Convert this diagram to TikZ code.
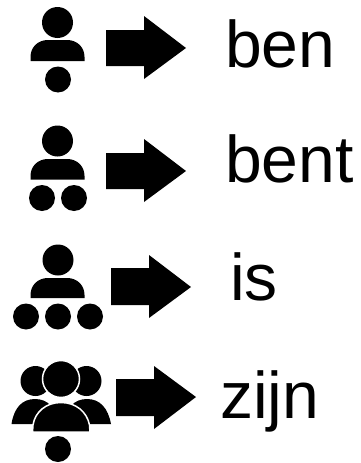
\documentclass[tikz,border=0pt]{standalone}
\usepackage{fontspec}
\setmainfont{Liberation Sans}
\tikzset{
  word/.style={anchor=base west,font=\fontsize{66}{66}\selectfont},
  cutout/.style={fill=black,draw=white,line width=1.500pt}
}

\begin{document}
\begin{tikzpicture}[y=1pt,x=1pt,yscale=-1, inner sep=0pt, outer sep=0pt]
  \useasboundingbox (0,0) rectangle (361,463);
  % first row
  \path[fill=black] (57.5,22.5) circle (15.5);
  \path[fill=black] (30.5,61) -- (30.5,57) .. controls (30.5,47) and (38,40) ..
    (48,40) -- (67,40) .. controls (77,40) and (84.5,47) .. (84.5,57) --
    (84.5,61) -- cycle;
  \path[fill=black] (58,79.5) circle (13);
  \path[fill=black] (106,30) -- (144,30) -- (144,16) -- (186,48) -- (144,79) --
    (144,66) -- (106,66) -- cycle;
  \path[fill=black] (225,67) node[word] (textben) {ben};
  % second row
  \path[fill=black] (57.5,141) circle (15.5);
  \path[fill=black] (30.5,179.5) -- (30.5,176) .. controls (30.5,166) and (38,159) ..
    (48,159) -- (67,159) .. controls (77,159) and (84.5,166) .. (84.5,176) --
    (84.5,179.5) -- cycle;
  \path[fill=black] (42,198) circle (13);
  \path[fill=black] (74,198) circle (13);
  \path[fill=black] (106,153) -- (144,153) -- (144,139) -- (186,171) -- (144,202) --
    (144,189) -- (106,189) -- cycle;
  \path[fill=black] (225,182) node[word] (textbent) {bent};
  % third row
  \path[fill=black] (58,260) circle (15.5);
  \path[fill=black] (30.5,298) -- (30.5,295) .. controls (30.5,285) and (38,278) ..
    (48,278) -- (67,278) .. controls (77,278) and (84.5,285) .. (84.5,295) --
    (84.5,298) -- cycle;
  \path[fill=black] (26,316.5) circle (13);
  \path[fill=black] (58,316.5) circle (13);
  \path[fill=black] (90,316.5) circle (13);
  \path[fill=black] (111,268) -- (149,268) -- (149,255) -- (191,287) -- (149,318) --
    (149,305) -- (111,305) -- cycle;
  \path[fill=black] (230,300) node[word] (textis) {is};
  % fourth row
  \path[fill=black] (35.5,381) circle (15);
  \path[fill=black] (86.5,381) circle (15);
  \path[fill=black] (11.5,424) .. controls (14,408) and (22,399) .. (35,399) ..
    controls (48,399) and (56,408) .. (58,424) -- cycle;
  \path[fill=black] (64,424) .. controls (66,408) and (74,399) .. (87,399) ..
    controls (100,399) and (108,408) .. (111,424) -- cycle;
  \path[cutout] (61,379) circle (18.5);
  \path[cutout] (32.5,432) -- (33,425) .. controls (35,412) and (46,402.5) ..
    (61,402.5) .. controls (76,402.5) and (87,412) .. (89.5,425) -- (90,432) -- cycle;
  \path[fill=black] (58,449) circle (13);
  \path[fill=black] (116,379) -- (154,379) -- (154,366) -- (196,397) -- (154,429) --
    (154,416) -- (116,416) -- cycle;
  \path[fill=black] (220,418.5) node[word] (textzijn) {zijn};
\end{tikzpicture}
\end{document}
